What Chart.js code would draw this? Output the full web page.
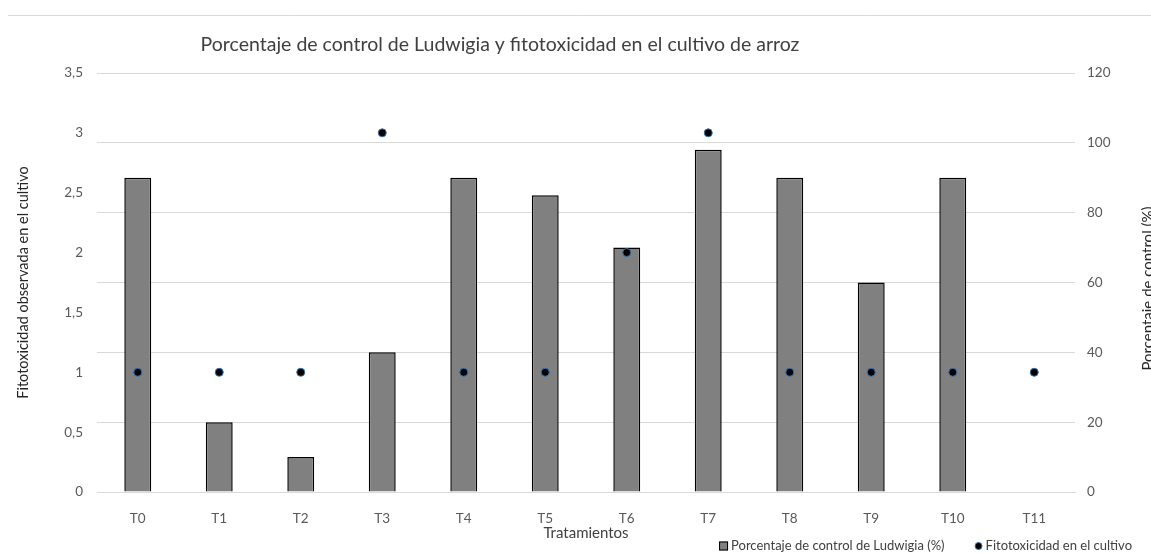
<!DOCTYPE html>
<html>
<head>
<meta charset="utf-8">
<script src="https://cdn.jsdelivr.net/npm/chart.js@4.4.1/dist/chart.umd.min.js"></script>
<style>
  html, body { margin: 0; padding: 0; background: #fff; }
  #wrap { width: 1151px; height: 554px; position: relative; }
</style>
</head>
<body>
<div id="wrap"><canvas id="chart" width="1151" height="554"></canvas></div>
<script>
const tratamientos = ['T0', 'T1', 'T2', 'T3', 'T4', 'T5', 'T6', 'T7', 'T8', 'T9', 'T10', 'T11'];
const controlLudwigia = [90, 20, 10, 40, 90, 85, 70, 98, 90, 60, 90, 0];
const fitotoxicidad = [1, 1, 1, 3, 1, 1, 2, 3, 1, 1, 1, 1];

const chartTitle = 'Porcentaje de control de Ludwigia y fitotoxicidad en el cultivo de arroz';
const rightAxisTitle = 'Porcentaje de control (%)';
const FONT = 'Lato, "Liberation Sans", sans-serif';

// title, top rule, right axis title and legend drawn by hand so they sit where Excel put them
const decorations = {
    id: 'decorations',
    afterDraw(chart) {
        const ctx = chart.ctx;
        const area = chart.chartArea;
        ctx.save();
        ctx.strokeStyle = '#d9d9d9';
        ctx.lineWidth = 1;
        ctx.beginPath();
        ctx.moveTo(8, 15.5);
        ctx.lineTo(1151, 15.5);
        ctx.stroke();

        ctx.fillStyle = '#404040';
        ctx.font = '19.5px ' + FONT;
        ctx.textAlign = 'center';
        ctx.textBaseline = 'middle';
        ctx.fillText(chartTitle, 500, 45);

        // legend, right aligned
        const [ptsDs, barDs] = chart.data.datasets;
        ctx.font = '13px ' + FONT;
        ctx.textAlign = 'left';
        const ly = 546;
        const w2 = ctx.measureText(ptsDs.label).width;
        const w1 = ctx.measureText(barDs.label).width;
        const t2 = 1132 - w2;
        const dotX = t2 - 7;
        const t1 = dotX - 34 - w1;
        const boxX = t1 - 12;
        ctx.fillStyle = barDs.backgroundColor;
        ctx.strokeStyle = barDs.borderColor;
        ctx.lineWidth = 1;
        ctx.fillRect(boxX, ly - 4.5, 9, 9);
        ctx.strokeRect(boxX + 0.5, ly - 4, 8, 8);
        ctx.beginPath();
        ctx.arc(dotX, ly, 3.5, 0, Math.PI * 2);
        ctx.fillStyle = ptsDs.pointBackgroundColor;
        ctx.fill();
        ctx.strokeStyle = ptsDs.pointBorderColor;
        ctx.stroke();
        ctx.fillStyle = '#404040';
        ctx.fillText(barDs.label, t1, ly);
        ctx.fillText(ptsDs.label, t2, ly);

        ctx.translate(1148, (area.top + area.bottom) / 2 + 6);
        ctx.rotate(-Math.PI / 2);
        ctx.textAlign = 'center';
        ctx.font = '15px ' + FONT;
        ctx.fillStyle = '#262626';
        ctx.fillText(rightAxisTitle, 0, 0);
        ctx.restore();
    }
};

const fmt = v => String(v).replace('.', ',');

new Chart(document.getElementById('chart'), {
    data: {
        labels: tratamientos,
        datasets: [{
            type: 'line',
            label: 'Fitotoxicidad en el cultivo',
            data: fitotoxicidad,
            yAxisID: 'y',
            showLine: false,
            pointRadius: 4,
            pointBackgroundColor: '#000000',
            pointBorderColor: '#2e75b6',
            pointBorderWidth: 1,
            pointStyle: 'circle'
        }, {
            type: 'bar',
            label: 'Porcentaje de control de Ludwigia (%)',
            data: controlLudwigia,
            yAxisID: 'y1',
            backgroundColor: '#808080',
            borderColor: '#000000',
            borderWidth: 1.5,
            categoryPercentage: 1,
            barPercentage: 0.33
        }]
    },
    options: {
        responsive: false,
        animation: false,
        layout: { padding: { top: 73, right: 8, left: 0, bottom: 0 } },
        scales: {
            x: {
                grid: { display: false },
                border: { color: '#d9d9d9' },
                ticks: { color: '#595959', font: { family: FONT, size: 13.5 }, padding: 11 },
                title: { display: true, text: 'Tratamientos', color: '#404040', font: { family: FONT, size: 15 }, padding: { top: 0, bottom: 12 } },
                afterFit(scale) { scale.height = 62; }
            },
            y: {
                position: 'left',
                min: 0,
                max: 3.5,
                grid: { display: false },
                border: { display: false },
                ticks: { stepSize: 0.5, color: '#595959', font: { family: FONT, size: 13.5 }, padding: 6, callback: v => fmt(v) },
                title: { display: true, text: 'Fitotoxicidad observada en el cultivo', color: '#262626', font: { family: FONT, size: 14.5 }, padding: 15 },
                afterFit(scale) { scale.width = 97; }
            },
            y1: {
                position: 'right',
                min: 0,
                max: 120,
                grid: { color: '#d9d9d9', drawTicks: false },
                border: { display: false },
                ticks: { stepSize: 20, color: '#595959', font: { family: FONT, size: 13.5 }, padding: 12 },
                afterFit(scale) { scale.width = 68; }
            }
        },
        plugins: {
            title: { display: false },
            tooltip: { enabled: false },
            legend: { display: false }
        }
    },
    plugins: [decorations]
});
</script>
</body>
</html>
